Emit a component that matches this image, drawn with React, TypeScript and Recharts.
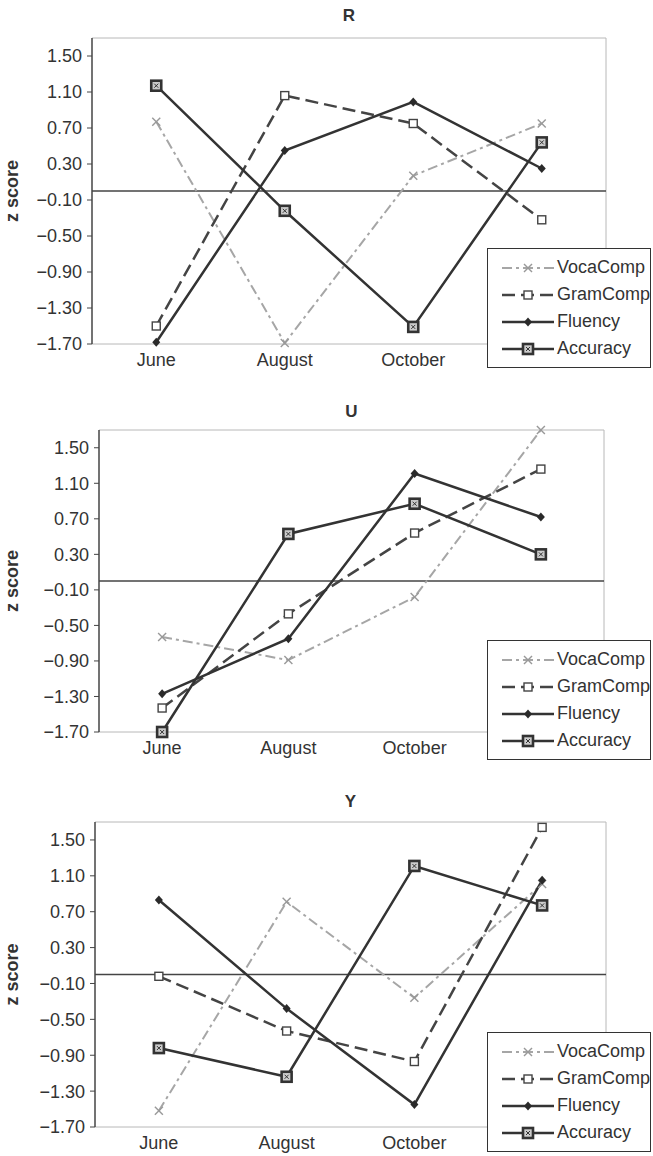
import React from 'react';
import {
  LineChart, Line, XAxis, YAxis, ReferenceLine, Legend, CartesianGrid,
} from 'recharts';

const MONTHS = ['June', 'August', 'October', 'December'];
const Y_TICKS = [-1.7, -1.3, -0.9, -0.5, -0.1, 0.3, 0.7, 1.1, 1.5];

// panel R
const R_VOCA = [0.77, -1.69, 0.17, 0.75];
const R_GRAM = [-1.5, 1.06, 0.75, -0.32];
const R_FLU = [-1.68, 0.45, 0.99, 0.25];
const R_ACC = [1.17, -0.22, -1.51, 0.54];

// panel U
const U_VOCA = [-0.63, -0.89, -0.18, 1.7];
const U_GRAM = [-1.43, -0.37, 0.54, 1.26];
const U_FLU = [-1.27, -0.65, 1.21, 0.72];
const U_ACC = [-1.7, 0.53, 0.87, 0.3];

// panel Y
const Y_VOCA = [-1.52, 0.81, -0.26, 1.01];
const Y_GRAM = [-0.02, -0.63, -0.97, 1.64];
const Y_FLU = [0.83, -0.38, -1.45, 1.05];
const Y_ACC = [-0.82, -1.14, 1.21, 0.77];

const SERIES = [
  { key: 'voca', name: 'VocaComp', color: '#a6a6a6', dash: '10 4 3 4', width: 2, marker: 'x' },
  { key: 'gram', name: 'GramComp', color: '#444', dash: '13 6', width: 2.5, marker: 'sq' },
  { key: 'flu', name: 'Fluency', color: '#333', dash: undefined, width: 2.5, marker: 'dia' },
  { key: 'acc', name: 'Accuracy', color: '#333', dash: undefined, width: 2.5, marker: 'acc' },
];

const toRows = (voca: number[], gram: number[], flu: number[], acc: number[]) =>
  MONTHS.map((month, i) => ({ month, voca: voca[i], gram: gram[i], flu: flu[i], acc: acc[i] }));

const PANELS = [
  { title: 'R', rows: toRows(R_VOCA, R_GRAM, R_FLU, R_ACC), top: 0, height: 392, left: 92, right: 47, bottom: 48, titleY: 16 },
  { title: 'U', rows: toRows(U_VOCA, U_GRAM, U_FLU, U_ACC), top: 392, height: 392, left: 99, right: 49, bottom: 52, titleY: 20 },
  { title: 'Y', rows: toRows(Y_VOCA, Y_GRAM, Y_FLU, Y_ACC), top: 784, height: 372, left: 95, right: 47, bottom: 29, titleY: 18 },
];

const FONT = '"Liberation Sans", Arial, sans-serif';
const FS = 18;

function Marker({ kind, cx, cy }: { kind: string; cx: number; cy: number }) {
  if (kind === 'x') {
    return (
      <g stroke="#999" strokeWidth={1.4}>
        <line x1={cx - 4} y1={cy - 4} x2={cx + 4} y2={cy + 4} />
        <line x1={cx - 4} y1={cy + 4} x2={cx + 4} y2={cy - 4} />
      </g>
    );
  }
  if (kind === 'sq') {
    return <rect x={cx - 4} y={cy - 4} width={8} height={8} fill="#fff" stroke="#444" strokeWidth={1.4} />;
  }
  if (kind === 'dia') {
    return <polygon points={`${cx},${cy - 4.5} ${cx + 4},${cy} ${cx},${cy + 4.5} ${cx - 4},${cy}`} fill="#2a2a2a" />;
  }
  return (
    <g>
      <rect x={cx - 5} y={cy - 5} width={10} height={10} fill="#ccc" stroke="#333" strokeWidth={2.6} />
      <line x1={cx - 2} y1={cy - 2} x2={cx + 2} y2={cy + 2} stroke="#333" strokeWidth={1} />
      <line x1={cx - 2} y1={cy + 2} x2={cx + 2} y2={cy - 2} stroke="#333" strokeWidth={1} />
    </g>
  );
}

const fmt = (v: number) => (v < 0 ? '\u2212' : '') + Math.abs(v).toFixed(2);

function LegendBox() {
  return (
    <div style={{
      width: 164, height: 120, boxSizing: 'border-box', border: '1.5px solid #333',
      background: '#fff', paddingTop: 5, fontFamily: FONT,
    }}>
      {SERIES.map(s => (
        <div key={s.key} style={{ height: 27, display: 'flex', alignItems: 'center' }}>
          <svg width={54} height={14} style={{ marginLeft: 14, flex: 'none' }}>
            <line x1={0} y1={7} x2={52} y2={7} stroke={s.color} strokeWidth={s.width} strokeDasharray={s.dash} />
            <Marker kind={s.marker} cx={26} cy={7} />
          </svg>
          <span style={{ fontSize: FS, color: '#333', marginLeft: 1, whiteSpace: 'nowrap' }}>{s.name}</span>
        </div>
      ))}
    </div>
  );
}

// plot-area frame: lines only at the outer edges
const frameH = ({ offset }: any) => [offset.top, offset.top + offset.height];
const frameV = ({ offset }: any) => [offset.left + offset.width];

function Panel({ p }: { p: typeof PANELS[number] }) {
  const plotW = 653 - p.left - p.right;
  return (
    <div style={{ position: 'absolute', left: 0, top: p.top, width: 653, height: p.height }}>
      <div style={{
        position: 'absolute', left: p.left, width: plotW, top: p.titleY - 10, textAlign: 'center',
        fontSize: 17, fontWeight: 'bold', color: '#333', lineHeight: '20px', fontFamily: FONT,
      }}>{p.title}</div>
      <LineChart width={653} height={p.height} data={p.rows} margin={{ top: 38, right: p.right, bottom: 0, left: 0 }}>
        <CartesianGrid
          stroke="#b8b8b8" strokeWidth={1}
          horizontalCoordinatesGenerator={frameH}
          verticalCoordinatesGenerator={frameV}
        />
        <XAxis
          dataKey="month" scale="band" height={p.bottom} interval={0}
          axisLine={false} tickLine={false} tickSize={0} tickMargin={9}
          tick={{ fontSize: FS, fill: '#333' }}
        />
        <YAxis
          width={p.left} domain={[-1.7, 1.7]} ticks={Y_TICKS} interval={0}
          tickFormatter={fmt} axisLine={{ stroke: '#444', strokeWidth: 1.5 }} tickLine={{ stroke: '#444' }}
          tickSize={5} tickMargin={5} tick={{ fontSize: FS, fill: '#333' }}
          label={({ viewBox }: any) => (
            <text
              x={12} y={viewBox.y + viewBox.height / 2}
              transform={`rotate(-90, 12, ${viewBox.y + viewBox.height / 2})`}
              textAnchor="middle" dominantBaseline="central"
              fontSize={FS} fontWeight="bold" fill="#333"
            >z score</text>
          )}
        />
        <ReferenceLine y={0} stroke="#444" strokeWidth={1.5} />
        {SERIES.map(s => (
          <Line
            key={s.key}
            dataKey={s.key} name={s.name}
            stroke={s.color} strokeWidth={s.width} strokeDasharray={s.dash}
            isAnimationActive={false} activeDot={false}
            dot={(d: any) => (d.cx == null || d.cy == null)
              ? <g key={d.index} />
              : <Marker key={d.index} kind={s.marker} cx={d.cx} cy={d.cy} />}
          />
        ))}
        <Legend
          layout="vertical" align="center" verticalAlign="middle"
          wrapperStyle={{ left: 487, top: 248, width: 164 }}
          content={() => <LegendBox />}
        />
      </LineChart>
    </div>
  );
}

export default function App() {
  return (
    <div style={{ position: 'absolute', left: 0, top: 0, width: 653, height: 1156, background: '#fff', fontFamily: FONT }}>
      {PANELS.map(p => <Panel key={p.title} p={p} />)}
    </div>
  );
}
